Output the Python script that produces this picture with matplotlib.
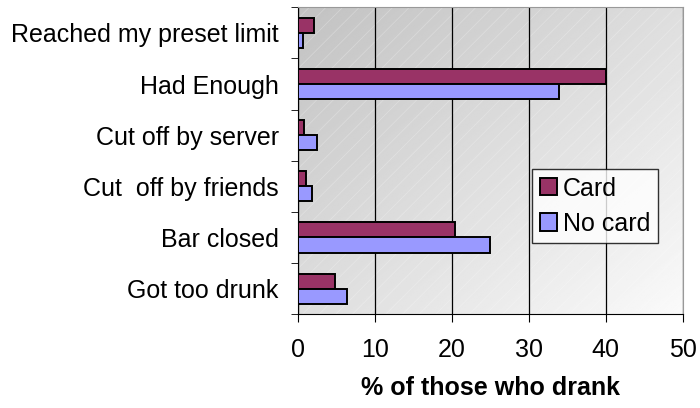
import numpy as np
import matplotlib
matplotlib.use("Agg")
import matplotlib.pyplot as plt
from matplotlib.patches import Rectangle

plt.rcParams["font.family"] = ["Liberation Sans", "DejaVu Sans"]
plt.rcParams["hatch.linewidth"] = 0.6

# reasons for stopping drinking, top to bottom as shown
categories = ["Reached my preset limit", "Had Enough", "Cut off by server",
              "Cut  off by friends", "Bar closed", "Got too drunk"]
card = [2.1, 40.1, 0.8, 1.0, 20.4, 4.8]
no_card = [0.6, 33.9, 2.4, 1.8, 25.0, 6.3]

fig = plt.figure(figsize=(7, 4.08), dpi=100)
ax = fig.add_axes([0.426, 0.230, 0.549, 0.752])

n = len(categories)
ypos = np.arange(n)[::-1]  # first category at top
h = 0.295

# gradient background: darker top-left, lighter bottom-right
gx, gy = np.meshgrid(np.linspace(0, 1, 200), np.linspace(0, 1, 200))
grad = 0.76 + 0.22 * (gx + gy) / 2
ax.imshow(grad, cmap="gray", vmin=0, vmax=1, extent=[0, 50, -0.5, n - 0.5],
          aspect="auto", origin="upper", zorder=0)
# faint diagonal texture
ax.add_patch(Rectangle((0, 0), 1, 1, transform=ax.transAxes, fill=False,
                       hatch="//", edgecolor=(1, 1, 1, 0.25), linewidth=0, zorder=0.5))

ax.barh(ypos + h / 2, card, height=h, color="#993366", edgecolor="black",
        linewidth=1.4, label="Card", zorder=3)
ax.barh(ypos - h / 2, no_card, height=h, color="#9999FF", edgecolor="black",
        linewidth=1.4, label="No card", zorder=3)

ax.set_xlim(0, 50)
ax.set_ylim(-0.5, n - 0.5)
ax.set_xticks(range(0, 51, 10))
ax.tick_params(axis="x", labelsize=18, length=6, direction="out", pad=11)
ax.xaxis.grid(True, color="black", linewidth=0.9, zorder=1)
ax.set_axisbelow(True)

ax.set_yticks(ypos)
ax.set_yticklabels(categories, fontsize=18)
ax.tick_params(axis="y", length=0, pad=14)
ax.set_yticks(np.arange(n + 1) - 0.5, minor=True)
ax.tick_params(axis="y", which="minor", length=5, direction="out")

for s in ["top", "right"]:
    ax.spines[s].set_color("#999999")
ax.spines["left"].set_color("black")
ax.spines["bottom"].set_color("black")

ax.set_xlabel("% of those who drank", fontsize=18, fontweight="bold", labelpad=10)

leg = ax.legend(loc="upper left", bbox_to_anchor=(0.609, 0.473), fontsize=18,
                frameon=True, fancybox=False, edgecolor="black",
                handlelength=0.68, handleheight=0.68, handletextpad=0.25,
                borderpad=0.3, labelspacing=0.45, borderaxespad=0)
leg.get_frame().set_linewidth(1.0)
leg.set_zorder(5)

fig.savefig("out.png", dpi=100)
